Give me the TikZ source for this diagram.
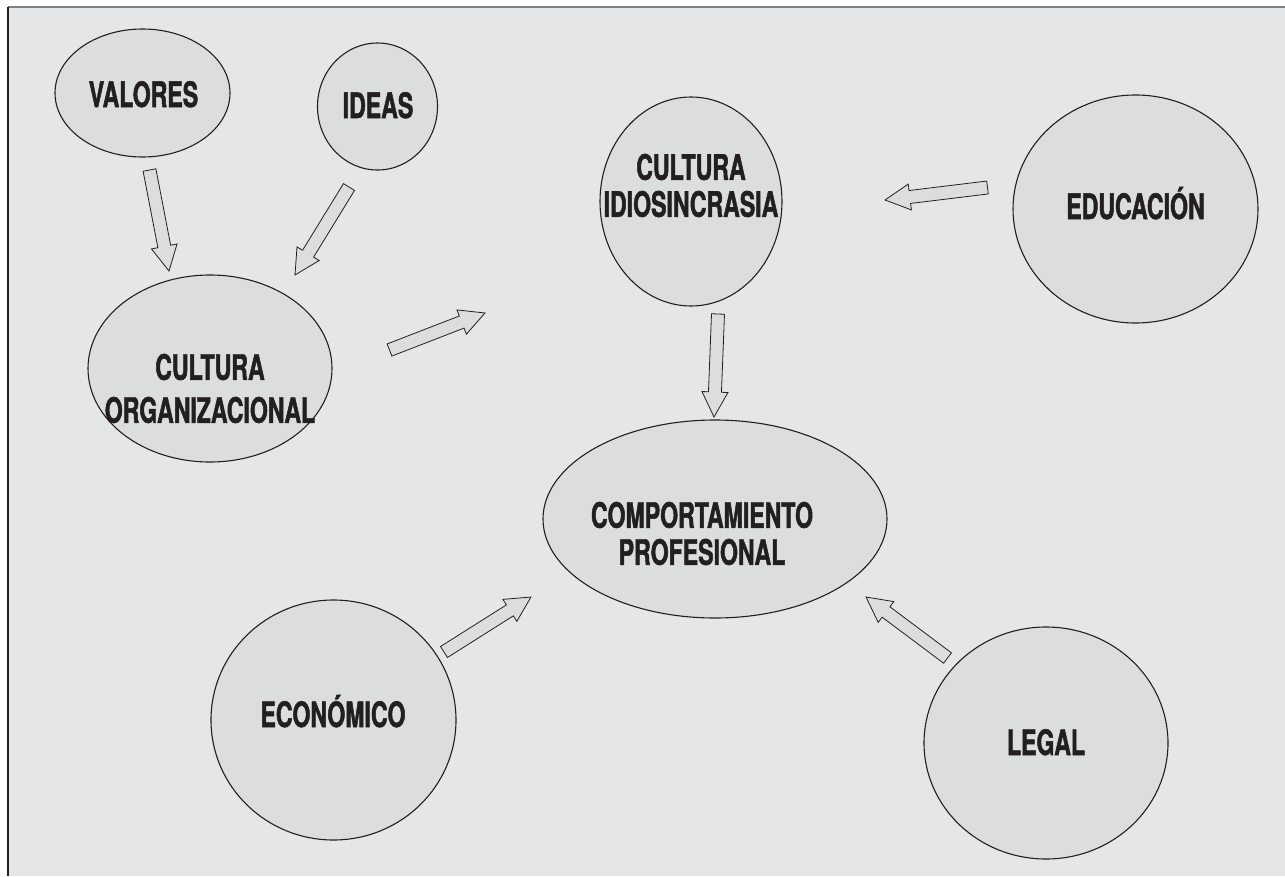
\documentclass[tikz,border=0pt]{standalone}
\usepackage{fontspec}
\usetikzlibrary{shapes.geometric,calc}
\newfontfamily\condfont[FakeStretch=0.66,FakeBold=1.4]{TeX Gyre Heros}
\definecolor{paper}{RGB}{229,230,232}
\definecolor{bubble}{RGB}{220,221,223}
\definecolor{ink}{RGB}{35,31,32}
\definecolor{rule}{RGB}{128,128,128}

\tikzset{
  bubble/.style={ellipse, draw=ink, line width=1.1pt, fill=bubble, inner sep=0pt},
  label/.style={font=\condfont\bfseries\fontsize{35}{43}\selectfont, text=ink, inner sep=0pt, align=center},
  hollow/.style={draw=ink, line width=0.8pt, fill=bubble, line join=miter},
}

% hollow block arrow from tail coordinate #1 to tip coordinate #2
\newcommand\blockarrow[2]{%
  \path ($(#2)!25pt!(#1)$) coordinate (hb);
  \draw[hollow]
    ($(#1)!6.5pt!90:(#2)$) -- ($(hb)!6.5pt!90:(#2)$) -- ($(hb)!13pt!90:(#2)$) -- (#2)
    -- ($(hb)!13pt!-90:(#2)$) -- ($(hb)!6.5pt!-90:(#2)$) -- ($(#1)!6.5pt!-90:(#2)$) -- cycle;
}

\begin{document}
\begin{tikzpicture}[x=1pt,y=-1pt]
\useasboundingbox (0,0) rectangle (1285,876);
\fill[white] (0,0) rectangle (1285,876);
\fill[paper] (8,7) rectangle (1285,876);
\draw[rule, line width=2pt] (8,7) -- (1285,7);
\draw[ink, line width=1.5pt] (8,7) -- (8,876);

% bubbles
\node[bubble, minimum width=175pt, minimum height=128pt] (valores) at (142.5,93) {};
\node[bubble, minimum width=120pt, minimum height=127pt] (ideas) at (377.5,106.5) {};
\node[bubble, minimum width=244pt, minimum height=187pt] (culorg) at (210,368.5) {};
\node[bubble, minimum width=182pt, minimum height=209pt] (culid) at (691,201.5) {};
\node[bubble, minimum width=245pt, minimum height=228pt] (educ) at (1135.5,209) {};
\node[bubble, minimum width=344pt, minimum height=198pt] (comp) at (715,519) {};
\node[bubble, minimum width=245pt, minimum height=240pt] (econ) at (333.5,720) {};
\node[bubble, minimum width=244pt, minimum height=232pt] (legal) at (1046,743) {};

% labels
\node[label, anchor=base] (tvalores) at (143.5,107) {VALORES};
\node[label, anchor=base] (tideas) at (378,118) {IDEAS};
\node[label] (tculorg) at (210,388.5) {CULTURA\\ORGANIZACIONAL};
\node[label, font=\condfont\bfseries\fontsize{35}{37}\selectfont] (tculid) at (691,185.5) {CULTURA\\IDIOSINCRASIA};
\node[label, anchor=base] (teduc) at (1135.5,219) {EDUCACIÓN};
\node[label, font=\condfont\bfseries\fontsize{35}{37}\selectfont] (tcomp) at (702,533.5) {COMPORTAMIENTO\\PROFESIONAL};
\node[label, anchor=base] (tecon) at (333,727) {ECONÓMICO};
\node[label, anchor=base] (tlegal) at (1046,755) {LEGAL};

% arrow ends
\coordinate (a1s) at (149.5,170);  \coordinate (a1e) at (169,271);
\coordinate (a2s) at (349,187);    \coordinate (a2e) at (295,275);
\coordinate (a3s) at (389.5,350);  \coordinate (a3e) at (485,313);
\coordinate (a4s) at (987.5,187.5);\coordinate (a4e) at (885,200);
\coordinate (a5s) at (718,314);    \coordinate (a5e) at (714,417);
\coordinate (a6s) at (444,652);    \coordinate (a6e) at (531,597);
\coordinate (a7s) at (947.5,658);  \coordinate (a7e) at (866,597);

% influences
\blockarrow{a1s}{a1e}
\blockarrow{a2s}{a2e}
\blockarrow{a3s}{a3e}
\blockarrow{a4s}{a4e}
\blockarrow{a5s}{a5e}
\blockarrow{a6s}{a6e}
\blockarrow{a7s}{a7e}

\end{tikzpicture}
\end{document}
